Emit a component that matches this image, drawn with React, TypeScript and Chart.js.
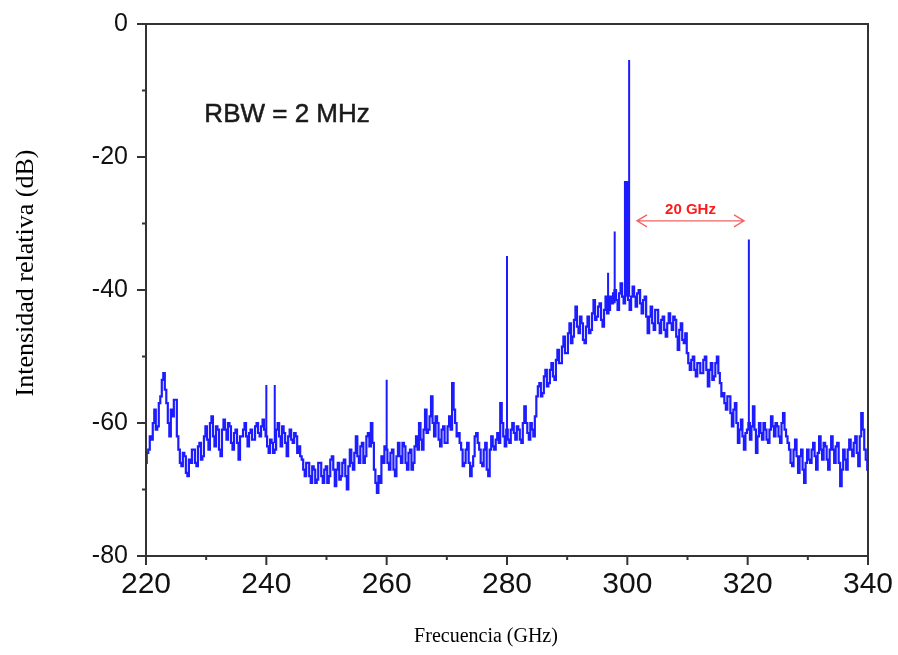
import { useEffect, useRef } from "react";
import { Chart, registerables } from "chart.js";

Chart.register(...registerables);

// Trace sampled every 0.25 GHz from 220 GHz
const START_GHZ = 220;
const STEP_GHZ = 0.25;
const traceDb: number[] = [
  // 220 - 224.75
  -66, -64.5, -64, -62, -62.5, -60, -58, -61, -60.5, -57, -56, -53.5, -52.5, -55, -57, -60, -62, -58, -59, -56.5,
  // 225 - 229.75
  -56.5, -62, -64, -66, -66.5, -64.5, -65, -67.5, -68, -65.5, -66, -64, -64, -66, -66.5, -63.5, -63, -65.5, -65, -62,
  // 230 - 234.75
  -60.5, -62.5, -64, -60, -59, -62, -63.5, -60.5, -61, -64, -65, -61, -59.5, -61, -62.5, -60, -60.5, -63, -64, -61.5,
  // 235 - 239.75
  -61, -63, -65.5, -62, -62, -61, -60, -62, -63.5, -61.5, -61, -62.5, -62.5, -60.5, -60, -61.5, -62, -60.5, -59.5, -61,
  // 240 - 244.75
  -62, -63.5, -64.5, -62.5, -63, -64.5, -64, -61, -60, -62, -63.5, -60.5, -61.5, -63, -65, -62, -61, -62.5, -63, -61.5,
  // 245 - 249.75
  -62, -64.5, -63.5, -65, -65.5, -67, -68, -66, -66, -68, -69, -66.5, -67, -69, -68.5, -66, -66, -68, -69, -67,
  // 250 - 254.75
  -66.5, -69, -68, -65.5, -65, -67, -69.5, -67, -66, -68.5, -68, -66, -65.5, -68, -70, -66.5, -64, -66, -67, -64.5,
  // 255 - 259.75
  -62, -65, -66, -63.5, -63, -66, -65, -62, -61.5, -63.5, -60, -63, -67, -69, -70.5, -68, -69, -65, -66, -63.5,
  // 260 - 264.75
  -64, -66, -67, -64.5, -64, -67, -68, -65, -63, -65, -66, -63, -63.5, -66, -67, -64.5, -64, -67, -66, -63.5,
  // 265 - 269.75
  -62, -64, -60, -62.5, -64, -61, -58, -61.5, -61, -59, -56, -60, -62, -59, -60, -62.5, -63.5, -61, -60.5, -63,
  // 270 - 274.75
  -63, -60.5, -59, -61, -54, -58, -60, -62, -61.5, -63, -64, -66.5, -66, -64, -63, -66, -68, -66.5, -65, -62,
  // 275 - 279.75
  -61.5, -63, -64, -66, -66.5, -64, -63, -67, -68, -64, -62, -63.5, -64, -62.5, -61.5, -63, -57, -60, -62, -63.5,
  // 280 - 284.75
  -61, -62.5, -63, -61, -60, -61.5, -62.5, -60.5, -61, -62.5, -63, -60, -57.5, -60, -61.5, -62.5, -60, -61, -62, -59,
  // 285 - 289.75
  -56, -54.5, -54, -56, -55.5, -53, -52, -54.5, -54, -52, -51, -53, -53.5, -50.5, -49, -51, -51, -48.5, -47, -49.5,
  // 290 - 294.75
  -49.5, -46.5, -45, -48, -47, -44.5, -42.5, -45.5, -46.5, -44, -45, -47.5, -48, -45.5, -44, -46.5, -46, -43.5, -41.5, -44.5,
  // 295 - 299.75
  -44, -42.5, -42, -44.5, -45.5, -43, -41, -43.5, -43, -41, -42, -40.5, -40, -41.5, -43, -40.5, -39, -41, -42, -40,
  // 300 - 304.75
  -40, -41.5, -43, -41, -39.5, -41, -42.5, -40.5, -40, -42, -43.5, -41.5, -41, -44, -46.5, -44, -42.5, -45, -46, -43,
  // 305 - 309.75
  -43, -45, -46.5, -44.5, -44, -46, -47, -45, -43.5, -45, -46, -44, -44.5, -47, -49, -46, -45, -47.5, -48, -46.5,
  // 310 - 314.75
  -49.5, -51, -52, -50.5, -50, -52, -53, -51, -51, -52.5, -52.5, -50.5, -50, -52, -54.5, -52, -51, -53.5, -53, -51,
  // 315 - 319.75
  -50, -52.5, -54, -56, -55.5, -57, -58, -56, -56, -58.5, -60.5, -58, -57, -60, -63, -61, -59.5, -62, -64, -61.5,
  // 320 - 324.75
  -61, -60, -62.5, -60.5, -57.5, -61, -64.5, -62, -60, -61.5, -62.5, -60, -61, -62.5, -63, -61, -59, -60.5, -62, -60,
  // 325 - 329.75
  -60.5, -62, -63, -60, -58.5, -61, -62, -63, -64, -66, -66.5, -64, -62.5, -65, -67.5, -65, -64, -67, -69, -66,
  // 330 - 334.75
  -64, -65.5, -66, -64, -63, -65, -67, -64.5, -62, -64, -65.5, -63, -63.5, -65.5, -67, -64, -62, -64, -66, -63.5,
  // 335 - 339.75
  -63, -66, -69.5, -67, -64, -65.5, -67, -64, -62.5, -64, -65, -63, -62, -64.5, -66.5, -62, -58.5, -61, -64, -65.5,
  // 340
  -67,
];

// Narrow spectral lines (frequency, foot level, peak level)
const spikeGhz = [240, 241.4, 260, 280, 296.8, 297.9, 299.6, 299.8, 300.0, 300.3, 320.2];
const spikeBaseDb = [-62, -63, -64, -61, -43, -42, -41, -41, -40, -41, -61];
const spikePeakDb = [-54.3, -54.3, -53.5, -34.9, -37.4, -31.2, -23.6, -23.6, -23.6, -5.4, -32.4];

const xTickLabels = [220, 240, 260, 280, 300, 320, 340];
const yTickLabels = [0, -20, -40, -60, -80];
const xMinorTicks = [220, 230, 240, 250, 260, 270, 280, 290, 300, 310, 320, 330, 340];
const yMinorTicks = [0, -10, -20, -30, -40, -50, -60, -70, -80];

const annotation = { text: "RBW = 2 MHz", x: 229.7, y: -13.7 };
const spacing = { text: "20 GHz", from: 301.6, to: 319.4, y: -29.6 };

const BLUE = "rgb(28, 28, 255)";

const overlay = {
  id: "overlay",
  afterDraw(chart: any) {
    const { ctx, chartArea } = chart;
    const xs = chart.scales.x;
    const ys = chart.scales.y;
    const { left, right, top, bottom } = chartArea;
    ctx.save();
    // frame
    ctx.strokeStyle = "#333";
    ctx.lineWidth = 2;
    ctx.beginPath();
    ctx.moveTo(left, top);
    ctx.lineTo(right, top);
    ctx.lineTo(right, bottom);
    ctx.lineTo(left, bottom);
    ctx.closePath();
    ctx.stroke();
    // ticks
    ctx.lineWidth = 2;
    yMinorTicks.forEach((v) => {
      const len = v % 20 === 0 ? 9 : 4;
      const py = ys.getPixelForValue(v);
      ctx.beginPath();
      ctx.moveTo(left - len, py);
      ctx.lineTo(left, py);
      ctx.stroke();
    });
    xMinorTicks.forEach((v) => {
      const len = v % 20 === 0 ? 9 : 4;
      const px = xs.getPixelForValue(v);
      ctx.beginPath();
      ctx.moveTo(px, bottom);
      ctx.lineTo(px, bottom + len);
      ctx.stroke();
    });
    // RBW annotation
    ctx.fillStyle = "#1a1a1a";
    ctx.strokeStyle = "#1a1a1a";
    ctx.lineWidth = 0.5;
    ctx.font = '26px "Liberation Sans", Arial, sans-serif';
    ctx.textAlign = "left";
    ctx.textBaseline = "middle";
    const rx = xs.getPixelForValue(annotation.x);
    const ry = ys.getPixelForValue(annotation.y);
    ctx.fillText(annotation.text, rx, ry);
    ctx.strokeText(annotation.text, rx, ry);
    // spacing arrow
    const ax1 = xs.getPixelForValue(spacing.from);
    const ax2 = xs.getPixelForValue(spacing.to);
    const ay = ys.getPixelForValue(spacing.y);
    ctx.strokeStyle = "rgba(235, 60, 60, 0.8)";
    ctx.lineWidth = 1.3;
    ctx.beginPath();
    ctx.moveTo(ax1, ay);
    ctx.lineTo(ax2, ay);
    ctx.moveTo(ax1 + 10, ay - 6);
    ctx.lineTo(ax1, ay);
    ctx.lineTo(ax1 + 10, ay + 6);
    ctx.moveTo(ax2 - 10, ay - 6);
    ctx.lineTo(ax2, ay);
    ctx.lineTo(ax2 - 10, ay + 6);
    ctx.stroke();
    ctx.fillStyle = "#ff1a1a";
    ctx.font = 'bold 15px "Liberation Sans", Arial, sans-serif';
    ctx.textAlign = "center";
    ctx.textBaseline = "bottom";
    ctx.fillText(spacing.text, (ax1 + ax2) / 2, ay - 3);
    // axis titles
    ctx.fillStyle = "#000";
    ctx.font = '26px "Liberation Serif", "Times New Roman", serif';
    ctx.textAlign = "center";
    ctx.textBaseline = "middle";
    ctx.save();
    ctx.translate(left - 120, (top + bottom) / 2 - 17);
    ctx.rotate(-Math.PI / 2);
    ctx.fillText("Intensidad relativa (dB)", 0, 0);
    ctx.restore();
    ctx.font = '20px "Liberation Serif", "Times New Roman", serif';
    ctx.fillText("Frecuencia (GHz)", (left + right) / 2 - 21, bottom + 81);
    ctx.restore();
  },
};

export default function App() {
  const ref = useRef<HTMLCanvasElement | null>(null);
  useEffect(() => {
    if (!ref.current) return;
    const trace = traceDb.map((v, i) => ({ x: START_GHZ + i * STEP_GHZ, y: v }));
    const spikes: any[] = [];
    spikeGhz.forEach((f, i) => {
      spikes.push({ x: f, y: spikeBaseDb[i] });
      spikes.push({ x: f, y: spikePeakDb[i] });
      spikes.push({ x: f, y: null });
    });
    const chart = new Chart(ref.current, {
      type: "line",
      data: {
        datasets: [
          {
            data: trace,
            borderColor: BLUE,
            borderWidth: 2.2,
            pointRadius: 0,
            stepped: "middle",
            tension: 0,
          },
          {
            data: spikes,
            borderColor: BLUE,
            borderWidth: 2,
            pointRadius: 0,
            spanGaps: false,
          },
        ],
      },
      options: {
        animation: false,
        responsive: false,
        devicePixelRatio: 1,
        layout: { padding: { left: 8, right: 30, top: 24, bottom: 0 } },
        plugins: { legend: { display: false }, tooltip: { enabled: false } },
        scales: {
          x: {
            type: "linear",
            min: 220,
            max: 340,
            afterFit: (s: any) => {
              s.height = 99;
            },
            afterBuildTicks: (s: any) => {
              s.ticks = xTickLabels.map((v) => ({ value: v }));
            },
            grid: { display: true, drawOnChartArea: false, drawTicks: true, tickLength: 9, color: "rgba(0,0,0,0)" },
            border: { display: false },
            ticks: {
              padding: 2,
              color: "#111",
              font: { family: '"Liberation Sans", Arial, sans-serif', size: 30 },
              maxRotation: 0,
              autoSkip: false,
            },
          },
          y: {
            type: "linear",
            min: -80,
            max: 0,
            afterFit: (s: any) => {
              s.width = 138;
            },
            afterBuildTicks: (s: any) => {
              s.ticks = yTickLabels.map((v) => ({ value: v }));
            },
            grid: { display: true, drawOnChartArea: false, drawTicks: true, tickLength: 9, color: "rgba(0,0,0,0)" },
            border: { display: false },
            ticks: {
              padding: 9,
              color: "#111",
              font: { family: '"Liberation Sans", Arial, sans-serif', size: 25 },
              autoSkip: false,
            },
          },
        },
      },
      plugins: [overlay],
    });
    return () => chart.destroy();
  }, []);
  return (
    <div style={{ position: "absolute", left: 0, top: 0, width: 898, height: 655, background: "#fff" }}>
      <canvas ref={ref} width={898} height={655} style={{ display: "block" }} />
    </div>
  );
}
